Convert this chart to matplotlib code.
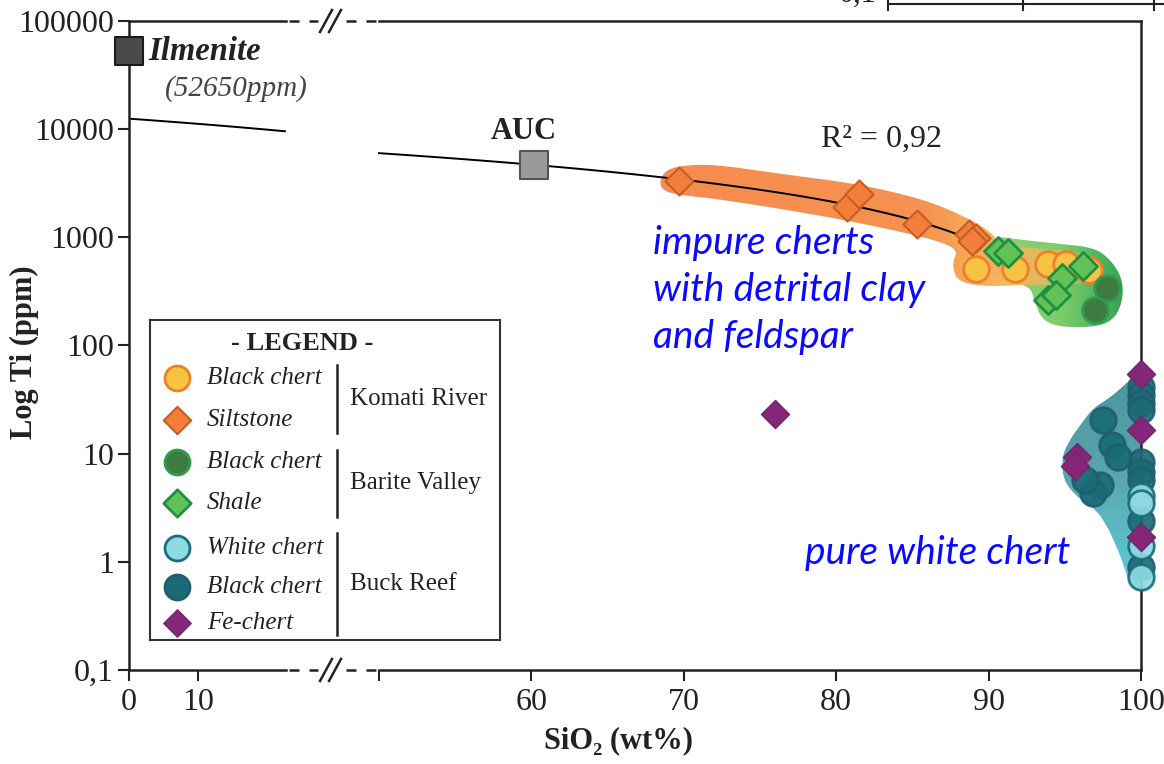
import numpy as np
import matplotlib
matplotlib.use('Agg')
import matplotlib.pyplot as plt
from matplotlib.colors import LinearSegmentedColormap
from matplotlib.lines import Line2D
from matplotlib.patches import Polygon

plt.rcParams['font.family'] = ['Liberation Serif', 'DejaVu Serif']

##############################
# Datos
##############################

# Referencias
ilmenite_sio2, ilmenite_ti = 0.0, 52650
auc_sio2, auc_ti = 60.2, 4700

# Recta de mezcla Ti = a + b * SiO2 (se ve curva en escala log)
fit_intercept = 12500.0
fit_slope = -130.0
fit_ranges = [(0.0, 22.6), (50.0, 88.8)]
fit_r2 = '0,92'

# Komati River
komati_chert_sio2 = [89.2, 91.7, 93.9, 95.1, 96.6]
komati_chert_ti = [515, 515, 570, 570, 494]
siltstone_sio2 = [69.7, 80.7, 81.5, 85.3, 88.7, 89.2, 88.9]
siltstone_ti = [3300, 1900, 2540, 1340, 1085, 980, 934]

# Barite Valley
barite_chert_sio2 = [97.8, 97.0]
barite_chert_ti = [337, 211]
shale_sio2 = [90.6, 91.3, 96.2, 94.8, 93.9, 94.4]
shale_ti = [755, 724, 549, 420, 261, 290]

# Buck Reef
buck_chert_sio2 = [100, 100, 100, 100, 100, 100, 100, 100, 100,
                   97.5, 98.1, 98.5, 97.3, 96.85, 96.3]
buck_chert_ti = [41, 34.6, 29.7, 25.2, 8.3, 6.7, 5.7, 2.4, 0.89,
                 20.3, 12.0, 9.3, 5.1, 4.3, 5.7]
white_chert_sio2 = [100, 100, 100, 100]
white_chert_ti = [4.1, 3.5, 1.4, 0.72]
fe_chert_sio2 = [76.0, 100, 100, 100, 95.8, 95.7]
fe_chert_ti = [23.1, 55, 16.4, 1.69, 9.3, 7.7]

# Contornos de los campos
komati_field_sio2 = [68.4, 68.9, 70.4, 72.4, 77.0, 81.2, 85.5, 88.1, 90.1,
                     90.9, 92.7, 96.3, 97.4, 97.4, 96.3, 92.7, 89.8, 87.9,
                     87.6, 88.0, 86.8, 83.5, 78.9, 72.4, 69.8, 68.6]
komati_field_ti = [3345, 4300, 4700, 4650, 3750, 3150, 2300, 1640, 1150,
                   810, 800, 735, 600, 425, 365, 365, 350, 390,
                   585, 755, 920, 1190, 1600, 2250, 2450, 2700]
barite_field_sio2 = [90.1, 92.1, 94.7, 97.0, 98.1, 98.8, 98.8, 98.2,
                     97.0, 94.7, 93.5, 93.0, 92.7, 90.7, 89.8]
barite_field_ti = [1040, 950, 870, 800, 600, 405, 255, 172,
                   148, 148, 172, 261, 359, 399, 585]
buck_field_sio2 = [99.5, 99.1, 98.0, 96.85, 96.1, 95.3, 94.8, 94.9, 95.8,
                   97.1, 97.8, 98.2, 98.75, 99.1, 99.5, 100.1, 100.7, 100.8,
                   100.85, 100.8, 100.5]
buck_field_ti = [52, 45.5, 33.2, 26.3, 19.1, 13.3, 9.27, 5.68, 3.96,
                 3.0, 2.09, 1.59, 1.04, 0.72, 0.56, 0.55, 0.79, 3.2,
                 13.3, 38.5, 52]

y_ticks = [0.1, 1, 10, 100, 1000, 10000, 100000]
y_labels = ['0,1', '1', '10', '100', '1000', '10000', '100000']
x_ticks = [0, 10, 50, 60, 70, 80, 90, 100]
x_labels = ['0', '10', '', '60', '70', '80', '90', '100']

# Estilos de cada serie
estilos = {
    'komati_chert': dict(marker='o', s=340, fc='#f6c343', ec='#f07f2c', lw=2.0),
    'siltstone': dict(marker='D', s=205, fc='#f27e3a', ec='#c45e28', lw=1.5),
    'barite_chert': dict(marker='o', s=340, fc='#3e7b43', ec='#2f9c4c', lw=2.0),
    'shale': dict(marker='D', s=205, fc='#62c257', ec='#1e9140', lw=2.0),
    'white_chert': dict(marker='o', s=340, fc='#8fd9e4', ec='#1b6e7a', lw=2.0),
    'buck_chert': dict(marker='o', s=340, fc='#1b6b77', ec='#1f5e70', lw=2.0),
    'fe_chert': dict(marker='D', s=205, fc='#86267a', ec='#6b2a6a', lw=1.0),
}

##############################
# Escala con eje cortado
##############################

BRK_LO, BRK_HI = 22.6, 50.0


def fwd(x):
    x = np.asarray(x, dtype=float)
    return np.where(x <= BRK_LO, x * 6.9,
                    np.where(x <= BRK_HI,
                             156 + (x - BRK_LO) * 94 / (BRK_HI - BRK_LO),
                             250 + (x - BRK_HI) * 15.24))


def inv(u):
    u = np.asarray(u, dtype=float)
    return np.where(u <= 156, u / 6.9,
                    np.where(u <= 250,
                             BRK_LO + (u - 156) * (BRK_HI - BRK_LO) / 94,
                             BRK_HI + (u - 250) / 15.24))


W, H = 1164, 764


def caja(l, t, r, b):
    ''' Caja en pixeles -> rect de figura. '''
    return [l / W, 1 - b / H, (r - l) / W, (b - t) / H]


def linea_px(fig, xs, ys, **kw):
    fig.add_artist(Line2D(np.array(xs) / W, 1 - np.array(ys) / H,
                          transform=fig.transFigure, **kw))


def suavizar(pts, n=3):
    ''' Redondea las esquinas de un contorno cerrado (Chaikin). '''
    for _ in range(n):
        q = np.roll(pts, -1, axis=0)
        nuevo = np.empty((2 * len(pts), 2))
        nuevo[0::2] = 0.75 * pts + 0.25 * q
        nuevo[1::2] = 0.25 * pts + 0.75 * q
        pts = nuevo
    return pts


def campo(ax, xs, ys, stops, vertical=False):
    ''' Rellena un contorno con un degradado. '''
    pts = np.column_stack([xs, ys])
    a = ax.transAxes.inverted().transform(ax.transData.transform(pts))
    a = suavizar(a)
    patch = Polygon(a, closed=True, facecolor='none', edgecolor='none',
                    transform=ax.transAxes)
    ax.add_patch(patch)
    x0, y0 = a.min(axis=0)
    x1, y1 = a.max(axis=0)
    cmap = LinearSegmentedColormap.from_list('campo', stops)
    ramp = np.linspace(0, 1, 256)
    img = ramp[::-1, None] if vertical else ramp[None, :]
    im = ax.imshow(img, cmap=cmap, vmin=0, vmax=1, extent=[x0, x1, y0, y1],
                   transform=ax.transAxes, aspect='auto', origin='lower',
                   interpolation='bilinear', zorder=1)
    im.set_clip_path(patch)
    im.set_clip_box(None)


def puntos(ax, x, y, st, alpha=1.0, z=4):
    ax.scatter(x, y, marker=st['marker'], s=st['s'], facecolor=st['fc'],
               edgecolor=st['ec'], linewidths=st['lw'], alpha=alpha,
               clip_on=False, zorder=z)

##############################
# Figura
##############################

fig = plt.figure(figsize=(11.64, 7.64), dpi=100)
ax = fig.add_axes(caja(129, 21, 1141, 670))
ax.set_xscale('function', functions=(fwd, inv))
ax.set_yscale('log')
ax.set_xlim(0, 100)
ax.set_ylim(0.1, 1e5)

ax.set_yticks(y_ticks)
ax.set_yticklabels(y_labels)
ax.yaxis.set_minor_locator(matplotlib.ticker.NullLocator())
ax.set_xticks(x_ticks)
ax.set_xticklabels(x_labels)
ax.xaxis.set_minor_locator(matplotlib.ticker.NullLocator())
ax.tick_params(direction='out', length=8, width=1.5, labelsize=23,
               color='#222', labelcolor='#222', pad=3)
ax.tick_params(axis='x', pad=5)

for s in ('top', 'bottom'):
    ax.spines[s].set_visible(False)
for s in ('left', 'right'):
    ax.spines[s].set_linewidth(1.8)
    ax.spines[s].set_color('#222')

# Ejes horizontales cortados
for ypx in (21, 670):
    linea_px(fig, [129, 286], [ypx, ypx], color='#222', lw=1.8)
    linea_px(fig, [379, 1141], [ypx, ypx], color='#222', lw=1.8)
    linea_px(fig, [289, 318], [ypx, ypx], color='#222', lw=1.8,
             linestyle=(0, (4, 4)))
    linea_px(fig, [346, 376], [ypx, ypx], color='#222', lw=1.8,
             linestyle=(0, (4, 4)))
    for xc in (326, 335):
        linea_px(fig, [xc - 6, xc + 6], [ypx + 11, ypx - 11], color='#222',
                 lw=1.8)

# Campos
campo(ax, barite_field_sio2, barite_field_ti,
      [(0, '#92d27a'), (0.55, '#7ccd6a'), (1, '#35a458')])
campo(ax, komati_field_sio2, komati_field_ti,
      [(0, (0.965, 0.55, 0.31, 1)), (0.6, (0.968, 0.57, 0.32, 1)),
       (0.72, (0.965, 0.68, 0.35, 1)), (0.85, (0.96, 0.72, 0.36, 0.85)),
       (1, (0.96, 0.72, 0.36, 0.15))])
campo(ax, buck_field_sio2, buck_field_ti,
      [(0, '#4b949e'), (0.5, '#5aa8b1'), (1, '#5dcfdc')], vertical=True)

# Recta de ajuste
for lo, hi in fit_ranges:
    xs = np.linspace(lo, hi, 80)
    ax.plot(xs, fit_intercept + fit_slope * xs, color='k', lw=1.4, zorder=2)

# Referencias
ax.scatter([ilmenite_sio2], [ilmenite_ti], marker='s', s=380,
           facecolor='#4a4a4a', edgecolor='#1a1a1a', linewidths=1.5,
           clip_on=False, zorder=5)
ax.scatter([auc_sio2], [auc_ti], marker='s', s=380, facecolor='#9a9a9a',
           edgecolor='#555555', linewidths=1.5, zorder=5)
ax.annotate('Ilmenite', (ilmenite_sio2, ilmenite_ti), xytext=(14, 0),
            textcoords='offset points', ha='left', va='center', fontsize=23.5,
            fontweight='bold', fontstyle='italic', color='#222')
ax.annotate('(%dppm)' % ilmenite_ti, (ilmenite_sio2, ilmenite_ti),
            xytext=(26, -27), textcoords='offset points', ha='left',
            va='center', fontsize=21, fontstyle='italic', color='#444')
ax.annotate('AUC', (auc_sio2, auc_ti), xytext=(-8, 24),
            textcoords='offset points', ha='center', va='center',
            fontsize=22, fontweight='bold', color='#222')
ax.text(0.744, 0.817, 'R² = ' + fit_r2, transform=ax.transAxes,
        ha='center', va='center', fontsize=23, color='#222')

# Muestras
puntos(ax, komati_chert_sio2, komati_chert_ti, estilos['komati_chert'])
puntos(ax, siltstone_sio2, siltstone_ti, estilos['siltstone'])
puntos(ax, shale_sio2, shale_ti, estilos['shale'])
puntos(ax, barite_chert_sio2, barite_chert_ti, estilos['barite_chert'])
puntos(ax, buck_chert_sio2, buck_chert_ti, estilos['buck_chert'], alpha=0.92)
puntos(ax, white_chert_sio2, white_chert_ti, estilos['white_chert'], alpha=0.92)
puntos(ax, fe_chert_sio2, fe_chert_ti, estilos['fe_chert'], z=5)

# Notas en azul
azul = dict(transform=ax.transAxes, ha='left', va='center', fontsize=28,
            fontstyle='italic', color='#0a0aff', family=['Lato', 'DejaVu Sans'])
for i, t in enumerate(['impure cherts', 'with detrital clay', 'and feldspar']):
    ax.text(0.518, 0.658 - i * 0.0725, t, **azul)
ax.text(0.668, 0.180, 'pure white chert', **azul)

ax.set_xlim(0, 100)
ax.set_ylim(0.1, 1e5)

# Titulos de los ejes
fig.text(24 / W, 1 - 352 / H, 'Log Ti (ppm)', rotation=90, ha='center',
         va='center', fontsize=22, fontweight='bold', color='#222')
fig.text(618 / W, 1 - 741 / H, 'SiO₂ (wt%)', ha='center', va='center',
         fontsize=22, fontweight='bold', color='#222')

##############################
# Leyenda
##############################

lg = fig.add_axes(caja(150, 320, 500, 640))
lg.set_xlim(0, 350)
lg.set_ylim(320, 0)
lg.set_xticks([])
lg.set_yticks([])
for s in lg.spines.values():
    s.set_linewidth(1.5)
    s.set_color('#333')

lg.text(152, 23, '- LEGEND -', ha='center', va='center', fontsize=19,
        fontweight='bold', color='#222')
filas = [('komati_chert', 'Black chert', 58), ('siltstone', 'Siltstone', 100),
         ('barite_chert', 'Black chert', 142), ('shale', 'Shale', 183),
         ('white_chert', 'White chert', 228), ('buck_chert', 'Black chert', 267),
         ('fe_chert', 'Fe-chert', 303)]
for clave, nombre, yy in filas:
    st = estilos[clave]
    lg.scatter([27], [yy], marker=st['marker'], s=st['s'] * 0.95,
               facecolor=st['fc'], edgecolor=st['ec'], linewidths=st['lw'])
    lg.text(57, yy, nombre, ha='left', va='center', fontsize=18,
            fontstyle='italic', color='#222')

grupos = [('Komati River', 45, 113), ('Barite Valley', 130, 197),
          ('Buck Reef', 213, 315)]
for nombre, y0, y1 in grupos:
    lg.plot([187, 187], [y0, y1], color='#222', lw=1.8)
    lg.text(200, (y0 + y1) / 2, nombre, ha='left', va='center', fontsize=18,
            color='#222')

# Resto del grafico superior
linea_px(fig, [888, 1164], [4, 4], color='#222', lw=1.5)
for xt in (888, 1023, 1154):
    linea_px(fig, [xt, xt], [0, 10], color='#222', lw=1.5)
fig.text(858 / W, 1 + 6 / H, '0,1', ha='center', va='center', fontsize=22,
         color='#222')

fig.savefig('out.png', dpi=100)
